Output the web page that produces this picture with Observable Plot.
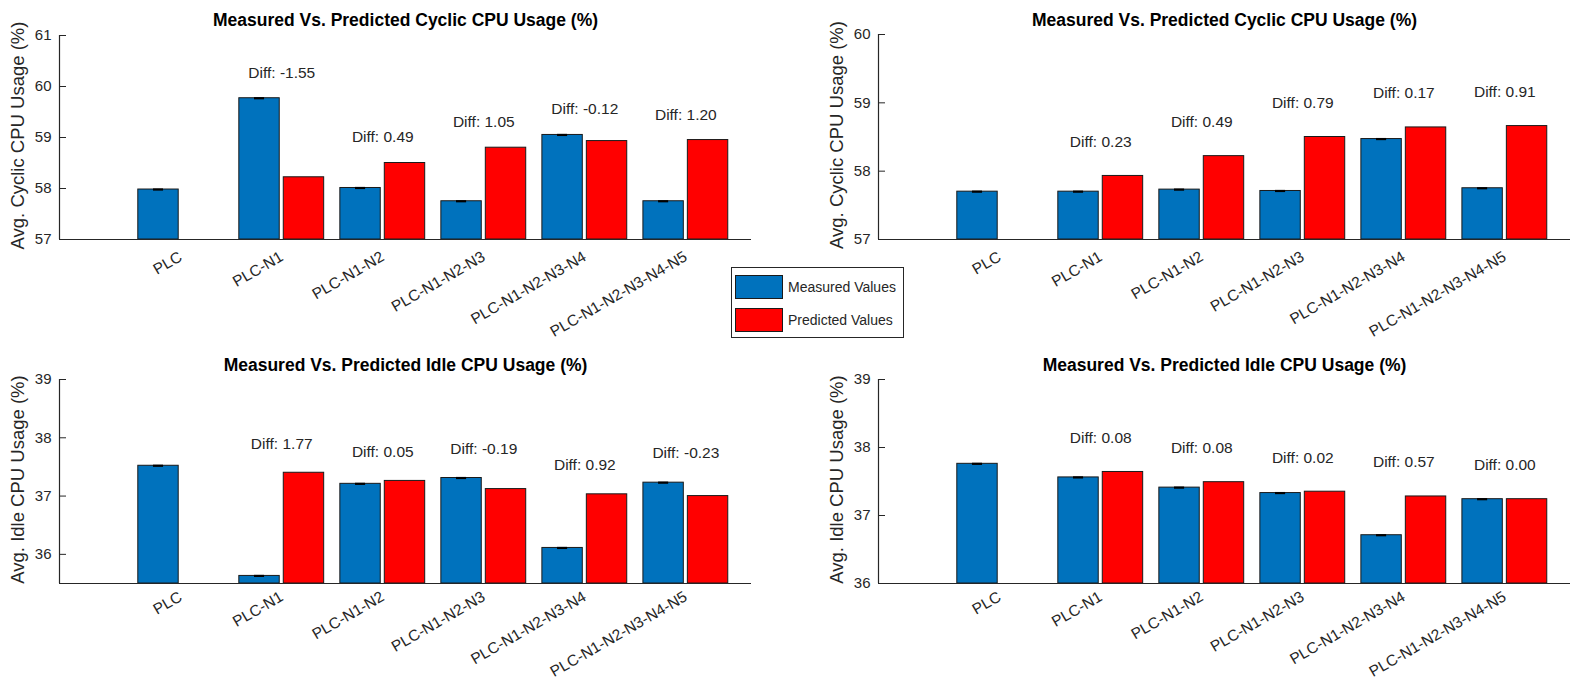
<!DOCTYPE html>
<html>
<head>
<meta charset="utf-8">
<script src="https://cdn.jsdelivr.net/npm/d3@7"></script>
<script src="https://cdn.jsdelivr.net/npm/@observablehq/plot@0.6"></script>
<style>
  body { margin: 0; background: #ffffff; }
  #wrap { position: relative; width: 1573px; height: 682px; font-family: "Liberation Sans", Arial, Helvetica, sans-serif; overflow: hidden; }
  .panel { position: absolute; }
  #legend { position: absolute; left: 731px; top: 267px; width: 173px; height: 71px; box-sizing: border-box;
            border: 1px solid #262626; background: #fff; }
  .lg-row { position: absolute; left: 3px; height: 25px; display: flex; align-items: center; }
  .lg-sw { width: 48px; height: 24px; box-sizing: border-box; border: 1px solid #1a1a1a; margin-right: 5px; }
  .lg-tx { font-size: 14px; color: #262626; white-space: nowrap; }
</style>
</head>
<body>
<div id="wrap"></div>
<script>
// ---------------- data ----------------
const categories = ["PLC", "PLC-N1", "PLC-N1-N2", "PLC-N1-N2-N3", "PLC-N1-N2-N3-N4", "PLC-N1-N2-N3-N4-N5"];
const seriesNames = ["Measured Values", "Predicted Values"];
const seriesColors = ["#0072BD", "#FF0000"];

// top-left: cyclic CPU usage
const cyclicLeftMeasured  = [57.98, 59.77, 58.01, 57.75, 59.05, 57.75];
const cyclicLeftPredicted = [null, 58.22, 58.50, 58.80, 58.93, 58.95];
const cyclicLeftDiff      = [-1.55, 0.49, 1.05, -0.12, 1.20];
const cyclicLeftTicks     = [57, 58, 59, 60, 61];

// top-right: cyclic CPU usage
const cyclicRightMeasured  = [57.70, 57.70, 57.73, 57.71, 58.47, 57.75];
const cyclicRightPredicted = [null, 57.93, 58.22, 58.50, 58.64, 58.66];
const cyclicRightDiff      = [0.23, 0.49, 0.79, 0.17, 0.91];
const cyclicRightTicks     = [57, 58, 59, 60];

// bottom-left: idle CPU usage
const idleLeftMeasured  = [37.52, 35.63, 37.21, 37.31, 36.11, 37.23];
const idleLeftPredicted = [null, 37.40, 37.26, 37.12, 37.03, 37.00];
const idleLeftDiff      = [1.77, 0.05, -0.19, 0.92, -0.23];
const idleLeftTicks     = [36, 37, 38, 39];

// bottom-right: idle CPU usage
const idleRightMeasured  = [37.76, 37.56, 37.41, 37.33, 36.71, 37.24];
const idleRightPredicted = [null, 37.64, 37.49, 37.35, 37.28, 37.24];
const idleRightDiff      = [0.08, 0.08, 0.02, 0.57, 0.00];
const idleRightTicks     = [36, 37, 38, 39];

const cyclicTitle = "Measured Vs. Predicted Cyclic CPU Usage (%)";
const idleTitle = "Measured Vs. Predicted Idle CPU Usage (%)";
const cyclicLabel = "Avg. Cyclic CPU Usage (%)";
const idleLabel = "Avg. Idle CPU Usage (%)";

// ---------------- drawing ----------------
const FONT = "'Liberation Sans', Arial, Helvetica, sans-serif";
const AXIS = "#262626";
const xDomain = [-0.2, 6.65];
const positions = categories.map((c, i) => i + 1);

function panel(cfg) {
  const ymin = cfg.yDomain[0];
  const rows = categories.map((c, i) => ({pos: i + 1, cat: c, m: cfg.measured[i], p: cfg.predicted[i]}));
  const pRows = rows.filter(d => d.p != null);
  const diffRows = cfg.diffs.map((d, j) => {
    const r = rows[j + 1];
    return {pos: r.pos, y: Math.max(r.m, r.p) + cfg.diffOffset, label: "Diff: " + d.toFixed(2)};
  });
  const chart = Plot.plot({
    width: cfg.width,
    height: cfg.height,
    marginLeft: cfg.ml, marginRight: cfg.mr, marginTop: cfg.mt, marginBottom: cfg.mb,
    style: {fontFamily: FONT, color: AXIS, background: "transparent", overflow: "visible"},
    x: {domain: xDomain},
    y: {domain: cfg.yDomain},
    marks: [
      Plot.rect(rows, {x1: d => d.pos - 0.42, x2: d => d.pos - 0.02, y1: () => ymin, y2: "m",
        fill: seriesColors[0], stroke: "#1a1a1a", strokeWidth: 1}),
      Plot.rect(pRows, {x1: d => d.pos + 0.02, x2: d => d.pos + 0.42, y1: () => ymin, y2: "p",
        fill: seriesColors[1], stroke: "#1a1a1a", strokeWidth: 1}),
      Plot.ruleY(rows, {y: "m", x1: d => d.pos - 0.27, x2: d => d.pos - 0.17, stroke: "#000", strokeWidth: 2.2}),
      Plot.ruleX([xDomain[0]], {stroke: AXIS, strokeWidth: 1.2}),
      Plot.ruleY([ymin], {stroke: AXIS, strokeWidth: 1.2}),
      Plot.axisY({ticks: cfg.yTicks, tickSize: 7, dx: 7, tickFormat: () => "", label: null}),
      Plot.axisY({ticks: cfg.yTicks, tickSize: 0, tickPadding: 8, tickFormat: d => String(d), fontSize: 15, label: null}),
      Plot.axisX({ticks: positions, tickFormat: i => categories[i - 1], tickRotate: -30, tickSize: 0,
        tickPadding: cfg.xPad, fontSize: 15.5, label: null}),
      Plot.text(diffRows, {x: "pos", y: "y", text: "label", fontSize: 15.5, fill: AXIS}),
      Plot.text([cfg.ylabel], {text: d => d, frameAnchor: "left", rotate: -90, dx: -41, dy: -2,
        textAnchor: "middle", lineAnchor: "middle", fontSize: 18.5, fill: AXIS}),
      Plot.text([cfg.title], {text: d => d, frameAnchor: "top", dy: cfg.titleDy,
        textAnchor: "middle", lineAnchor: "middle", fontSize: 17.5, fontWeight: "bold", fill: "#000"})
    ]
  });
  chart.classList.add("panel");
  chart.style.left = cfg.left + "px";
  chart.style.top = cfg.top + "px";
  return chart;
}

const wrap = document.getElementById("wrap");
wrap.appendChild(panel({title: cyclicTitle, ylabel: cyclicLabel, measured: cyclicLeftMeasured, predicted: cyclicLeftPredicted,
  diffs: cyclicLeftDiff, diffOffset: 0.5, yDomain: [57, 61], yTicks: cyclicLeftTicks, xPad: 16,
  left: 0, top: 0, width: 786, height: 340, ml: 59, mr: 35, mt: 35, mb: 101, titleDy: -15}));
wrap.appendChild(panel({title: cyclicTitle, ylabel: cyclicLabel, measured: cyclicRightMeasured, predicted: cyclicRightPredicted,
  diffs: cyclicRightDiff, diffOffset: 0.5, yDomain: [57, 60], yTicks: cyclicRightTicks, xPad: 16,
  left: 786, top: 0, width: 787, height: 340, ml: 92, mr: 3, mt: 34, mb: 101, titleDy: -14}));
wrap.appendChild(panel({title: idleTitle, ylabel: idleLabel, measured: idleLeftMeasured, predicted: idleLeftPredicted,
  diffs: idleLeftDiff, diffOffset: 0.5, yDomain: [35.5, 39], yTicks: idleLeftTicks, xPad: 12,
  left: 0, top: 340, width: 786, height: 342, ml: 59, mr: 35, mt: 39, mb: 99, titleDy: -14}));
wrap.appendChild(panel({title: idleTitle, ylabel: idleLabel, measured: idleRightMeasured, predicted: idleRightPredicted,
  diffs: idleRightDiff, diffOffset: 0.5, yDomain: [36, 39], yTicks: idleRightTicks, xPad: 12,
  left: 786, top: 340, width: 787, height: 342, ml: 92, mr: 3, mt: 39, mb: 99, titleDy: -14}));

// legend
const legend = document.createElement("div");
legend.id = "legend";
seriesNames.forEach((name, i) => {
  const row = document.createElement("div");
  row.className = "lg-row";
  row.style.top = (6 + i * 33) + "px";
  const sw = document.createElement("div");
  sw.className = "lg-sw";
  sw.style.background = seriesColors[i];
  const tx = document.createElement("span");
  tx.className = "lg-tx";
  tx.textContent = name;
  row.appendChild(sw);
  row.appendChild(tx);
  legend.appendChild(row);
});
wrap.appendChild(legend);
</script>
</body>
</html>
